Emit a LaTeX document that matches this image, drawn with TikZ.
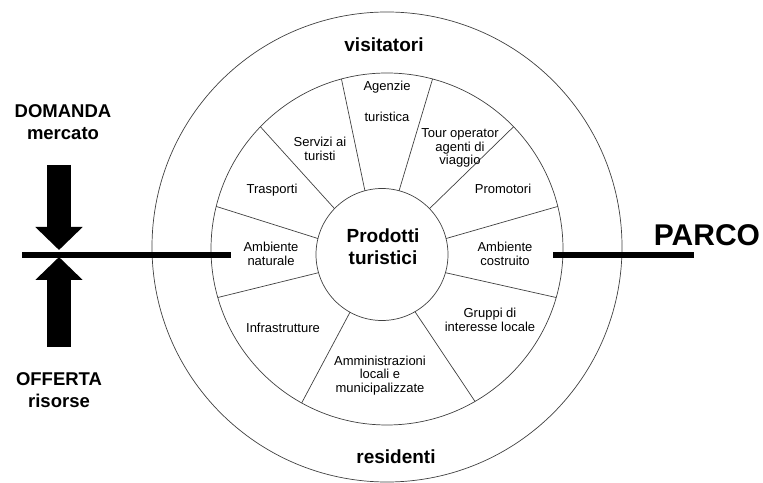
\documentclass[tikz,border=0pt]{standalone}
\usepackage{fontspec}
\setmainfont{Liberation Sans}
\usetikzlibrary{arrows.meta}
\begin{document}
\begin{tikzpicture}[
        x=1pt, y=1pt,
        ring/.style={circle, draw=black!75, line width=0.7pt, inner sep=0pt, outer sep=0pt},
        divider/.style={draw=black!75, line width=0.7pt},
        sector/.style={align=center, inner sep=0pt, font=\fontsize{13}{13.5}\selectfont},
        title/.style={align=center, inner sep=0pt, font=\bfseries\fontsize{19}{22}\selectfont},
        sidetext/.style={align=center, inner sep=0pt, font=\bfseries\fontsize{18.5}{22}\selectfont},
        bar/.style={line width=6pt},
        bigarrow/.style={-{Triangle[width=46pt, length=23pt]}, line width=24pt}
    ]
    \useasboundingbox (0,0) rectangle (763,482);

    \node[ring, minimum size=470pt] (outer) at (387,235) {};
    \node[ring, minimum size=352pt] (middle) at (387,233) {};
    \node[ring, minimum size=132pt] (prod) at (382,227.5) {};

    \foreach \a in {14,44,75,105,136,166,196,241,300,344}
        \draw[divider] (prod.\a) -- (middle.\a);

    \node[title] (prodtxt) at (383,235) {Prodotti\\turistici};
    \node[title, anchor=base] (visit) at (384,430) {visitatori};
    \node[title, anchor=base] (resid) at (396,19) {residenti};

    \node[sector] (agenzie) at (387,380.5) {Agenzie\\[17pt]turistica};
    \node[sector] (servizi) at (320,333) {Servizi ai\\turisti};
    \node[sector] (tour) at (460,334) {Tour operator\\agenti di\\viaggio};
    \node[sector, anchor=base] (trasp) at (272,288) {Trasporti};
    \node[sector, anchor=base] (promo) at (503,288) {Promotori};
    \node[sector] (ambnat) at (271,228.3) {Ambiente\\naturale};
    \node[sector] (ambcos) at (505,228.3) {Ambiente\\costruito};
    \node[sector, anchor=base] (infra) at (283,149) {Infrastrutture};
    \node[sector] (gruppi) at (490,162) {Gruppi di\\interesse locale};
    \node[sector] (ammin) at (380,106.5) {Amministrazioni\\locali e\\municipalizzate};

    \coordinate (lbarw) at (22,226.5);
    \coordinate (lbare) at (231,226.5);
    \coordinate (rbarw) at (553,227);
    \coordinate (rbare) at (694,227);
    \draw[bar] (lbarw) -- (lbare);
    \draw[bar] (rbarw) -- (rbare);
    \node[font=\bfseries\fontsize{30}{32}\selectfont, inner sep=0pt] (parco) at (707,246.5) {PARCO};

    \coordinate (dtop) at (59,317);
    \coordinate (dtip) at (59,232);
    \coordinate (ubot) at (59,135);
    \coordinate (utip) at (59,225);
    \draw[bigarrow] (dtop) -- (dtip);
    \draw[bigarrow] (ubot) -- (utip);
    \node[sidetext] (domanda) at (63,359.5) {DOMANDA\\mercato};
    \node[sidetext] (offerta) at (59,91.5) {OFFERTA\\risorse};

\end{tikzpicture}
\end{document}
